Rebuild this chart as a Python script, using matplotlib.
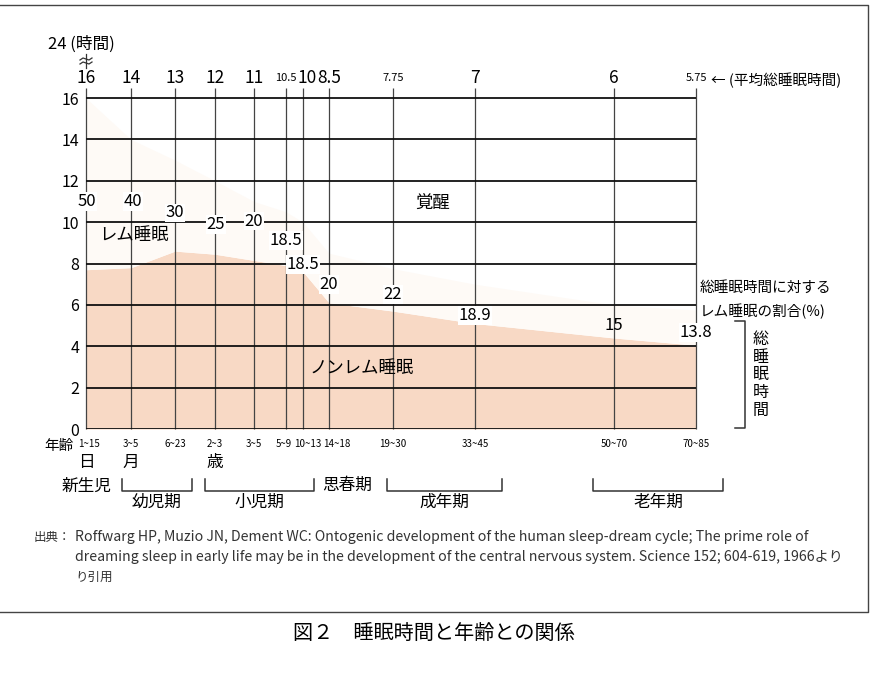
import matplotlib
matplotlib.use('Agg')
import matplotlib.pyplot as plt
from matplotlib import font_manager
from matplotlib.lines import Line2D

W, H = 878, 683
JP = 'Noto Sans CJK JP'
_names = {f.name for f in font_manager.fontManager.ttflist}
NARROW = 'Liberation Sans Narrow' if 'Liberation Sans Narrow' in _names else JP
plt.rcParams['font.family'] = [JP, 'DejaVu Sans']

# ---------------- data ----------------
ages = ['1~15', '3~5', '6~23', '2~3', '3~5', '5~9', '10~13', '14~18',
        '19~30', '33~45', '50~70', '70~85']
age_units = ['日', '月', '', '歳', '', '', '', '', '', '', '', '']
total_sleep = [16, 14, 13, 12, 11, 10.5, 10, 8.5, 7.75, 7, 6, 5.75]
total_labels = ['16', '14', '13', '12', '11', '10.5', '10', '8.5', '7.75', '7', '6', '5.75']
rem_pct = [50, 40, 30, 25, 20, 18.5, 18.5, 20, 22, 18.9, 15, 13.8]
nrem_top = [7.7, 7.8, 8.6, 8.45, 8.15, 7.9, 7.6, 6.1, 5.7, 5.1, 4.4, 4.05]
y_ticks = [0, 2, 4, 6, 8, 10, 12, 14, 16]
stage_brackets = ['幼児期', '小児期', '成年期', '老年期']
stage_single = ['新生児', '思春期']

# ---------------- layout ----------------
x_pos = [0, 45, 89, 129, 168, 200, 217, 243, 307, 389, 528, 610]
rem_label_y = [11.0, 11.0, 10.45, 9.9, 10.05, 9.1, 7.95, 7.0, 6.5, 5.5, 5.0, 4.65]
rem_label_dx = [1, 2, 0, 1, 0, 0, 0, 0, 0, 0, 0, 0]
age_label_dx = [3, 0, 0, 0, 0, -2, 5, 8, 0, 0, 0, 0]
small_top = {'10.5', '7.75', '5.75'}
bracket_px = [(122, 192), (205, 314), (387, 502), (593, 723)]
single_px = [(87, 486), (347, 485)]

NREM_C = '#f8d9c5'
REM_C = '#fefaf6'

fig = plt.figure(figsize=(W / 100, H / 100), dpi=100)
fig.patch.set_facecolor('white')


def fx(px):
    return px / W


def fy(py):
    return 1 - py / H


ax = fig.add_axes([fx(86), fy(429), 610 / W, (429 - 87.7) / H])
ax.set_xlim(0, 610)
ax.set_ylim(0, 16.5)
for s in ax.spines.values():
    s.set_visible(False)
ax.set_xticks([])
ax.set_yticks(y_ticks)
ax.set_yticklabels([str(v) for v in y_ticks], fontsize=11.5)
ax.tick_params(axis='y', length=0, pad=5)
ax.patch.set_alpha(0)

ax.fill_between(x_pos, 0, nrem_top, color=NREM_C, lw=0, zorder=1)
ax.fill_between(x_pos, nrem_top, total_sleep, color=REM_C, lw=0, zorder=1)

ax.hlines(y_ticks, 0, 610, color='#111111', lw=1.3, zorder=3)
ax.vlines(x_pos, 0, 16.5, color='#444444', lw=0.9, zorder=2, clip_on=False)

# top total sleep labels
for x, lab in zip(x_pos, total_labels):
    if lab in small_top:
        ax.text(x, 16.97, lab, ha='center', va='center', fontsize=8,
                family=NARROW, clip_on=False)
    else:
        dx = 4 if lab == '10' else 0
        ax.text(x + dx, 16.97, lab, ha='center', va='center', fontsize=12.5,
                clip_on=False)

# REM percentages
for i, (x, v) in enumerate(zip(x_pos, rem_pct)):
    kw = {}
    if v != 15:
        kw['bbox'] = dict(facecolor='white', edgecolor='none', pad=0.6)
    ax.text(x + rem_label_dx[i], rem_label_y[i], f'{v:g}', ha='center', va='center',
            fontsize=12, zorder=5, clip_on=False, **kw)

ax.text(347, 10.9, '覚醒', ha='center', va='center', fontsize=12.5, zorder=5)
ax.text(48, 9.4, 'レム睡眠', ha='center', va='center', fontsize=12.5, zorder=5)
ax.text(276, 2.95, 'ノンレム睡眠', ha='center', va='center', fontsize=12.5, zorder=5)

# age labels
for i, (x, lab, u) in enumerate(zip(x_pos, ages, age_units)):
    ax.text(x + age_label_dx[i], -0.72, lab, ha='center', va='center', fontsize=7,
            family=[NARROW, JP], clip_on=False)
    if u:
        ax.text(x, -1.6, u, ha='center', va='center', fontsize=12, clip_on=False)

fig.text(fx(59), fy(446), '年齢', ha='center', va='center', fontsize=10.5)

# y-axis header and break mark
fig.text(fx(48), fy(44), '24 (時間)', ha='left', va='center', fontsize=12)
fig.add_artist(Line2D([fx(86), fx(86)], [fy(54), fy(68)], color='#333333', lw=0.9))
for yy in (59, 63):
    fig.add_artist(Line2D([fx(80), fx(83), fx(86), fx(89), fx(92)],
                          [fy(yy + 1), fy(yy - 1), fy(yy), fy(yy + 1), fy(yy - 1)],
                          color='#333333', lw=0.9))

fig.text(fx(711), fy(80), '← (平均総睡眠時間)', ha='left', va='center', fontsize=10.5)
fig.text(fx(700), fy(288), '総睡眠時間に対する', ha='left', va='center', fontsize=10.5)
fig.text(fx(700), fy(311), 'レム睡眠の割合(%)', ha='left', va='center', fontsize=10.5)

# bracket for total sleep
fig.add_artist(Line2D([fx(735), fx(745), fx(745), fx(735)],
                      [fy(321), fy(321), fy(428), fy(428)], color='#333333', lw=1.1))
fig.text(fx(761), fy(375), '\n'.join('総睡眠時間'), ha='center', va='center',
         fontsize=11.5, linespacing=1.05)

# stage brackets
for name, (a, b) in zip(stage_brackets, bracket_px):
    fig.add_artist(Line2D([fx(a), fx(a), fx(b), fx(b)],
                          [fy(479), fy(491), fy(491), fy(479)], color='#333333', lw=1.1))
    fig.text(fx((a + b) / 2), fy(502), name, ha='center', va='center', fontsize=12)
for name, (px, py) in zip(stage_single, single_px):
    fig.text(fx(px), fy(py), name, ha='center', va='center', fontsize=12)

# citation
cite_fam = [NARROW, JP]
fig.text(fx(34), fy(537), '出典：', ha='left', va='center', fontsize=9, family=JP, color='#333333')
fig.text(fx(75), fy(537),
         'Roffwarg HP, Muzio JN, Dement WC: Ontogenic development of the human sleep-dream cycle; The prime role of',
         ha='left', va='center', fontsize=10.2, family=cite_fam, color='#333333')
fig.text(fx(75), fy(557),
         'dreaming sleep in early life may be in the development of the central nervous system. Science 152; 604-619, 1966より',
         ha='left', va='center', fontsize=10.2, family=cite_fam, color='#333333')
fig.text(fx(75), fy(577), 'り引用', ha='left', va='center', fontsize=9, family=JP, color='#333333')

# frame
fig.add_artist(Line2D([0, fx(868), fx(868), 0], [fy(5), fy(5), fy(612), fy(612)],
                      color='#444444', lw=1.0))

fig.text(fx(434), fy(633), '図２　睡眠時間と年齢との関係', ha='center', va='center', fontsize=14.5)

fig.savefig('out.png', dpi=100)
